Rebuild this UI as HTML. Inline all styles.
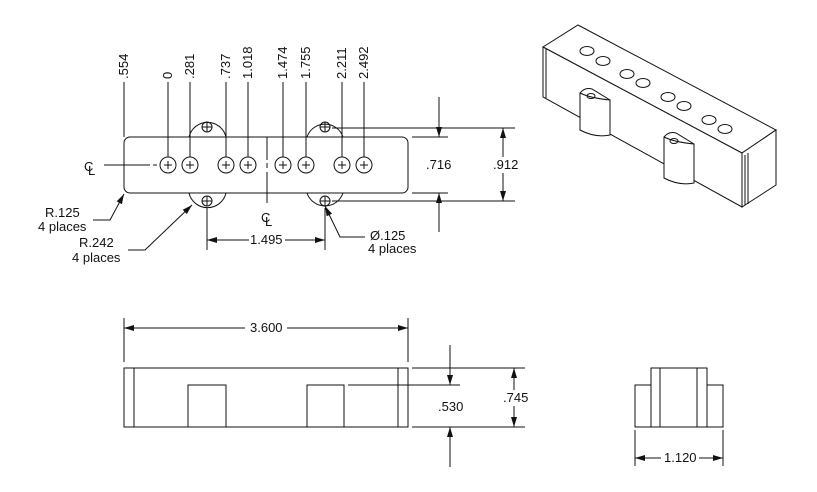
<!DOCTYPE html>
<html><head><style>
html,body{margin:0;padding:0;background:#fff;}
svg{display:block;}
text{font-family:"Liberation Sans",sans-serif;font-size:13px;fill:#111;}
</style></head><body>
<svg width="817" height="492" viewBox="0 0 817 492" xmlns="http://www.w3.org/2000/svg">
<defs>
<marker id="a" viewBox="0 0 10 6" refX="10" refY="3" markerWidth="10" markerHeight="6" orient="auto-start-reverse" markerUnits="userSpaceOnUse"><path d="M0,0 L10,3 L0,6 z" fill="#111"/></marker>
</defs>
<g stroke="#111" stroke-width="1" fill="none">
<path d="M189,137 A19,19 0 0 1 226,137" fill="#fff"/>
<path d="M307,137 A19,19 0 0 1 343,137" fill="#fff"/>
<path d="M189,193 A19,19 0 0 0 226,193" fill="#fff"/>
<path d="M307,193 A19,19 0 0 0 343,193" fill="#fff"/>
<rect x="124" y="137" width="284" height="56" rx="6" fill="#fff"/>
<g>
<circle cx="168" cy="165" r="8"/><circle cx="190" cy="165" r="8"/>
<circle cx="226" cy="165" r="8"/><circle cx="248" cy="165" r="8"/>
<circle cx="283" cy="165" r="8"/><circle cx="306" cy="165" r="8"/>
<circle cx="342" cy="165" r="8"/><circle cx="364" cy="165" r="8"/>
<path d="M164,165h8M168,161v8M186,165h8M190,161v8M222,165h8M226,161v8M244,165h8M248,161v8M279,165h8M283,161v8M302,165h8M306,161v8M338,165h8M342,161v8M360,165h8M364,161v8"/>
<circle cx="207" cy="127" r="5"/><path d="M202,127h10M207,122v10"/>
<circle cx="325" cy="127" r="5"/><path d="M320,127h10M325,122v10"/>
<circle cx="207" cy="201" r="5"/><path d="M202,201h10M207,196v10"/>
<circle cx="325" cy="201" r="5"/><path d="M320,201h10M325,196v10"/>
</g>
<path d="M124,137V82M168,157V82M190,157V82M226,157V82M248,157V82M283,157V82M306,157V82M342,157V82M364,157V82"/>
<path d="M104,165H150M153,165h4"/>
<path d="M267,137V160M267,163v5M267,172V203"/>
<path d="M412,137H448M412,193H448M332,128H515M332,201H515"/>
<path d="M439,97V137" marker-end="url(#a)"/>
<path d="M439,232V193" marker-end="url(#a)"/>
<path d="M503,128V201" marker-start="url(#a)" marker-end="url(#a)"/>
<path d="M207,208V250M325,208V250"/>
<path d="M207,240H325" marker-start="url(#a)" marker-end="url(#a)"/>
<path d="M365,237H340L325,206" marker-end="url(#a)"/>
<path d="M93,220H110L124,194" marker-end="url(#a)"/>
<path d="M128,250H145L192,205" marker-end="url(#a)"/>

<path d="M543,47 L578,25 L776,130 L742,153 Z" fill="#fff"/>
<path d="M543,47 V97 L742,207 V153 Z" fill="#fff"/>
<path d="M742,153 L776,130 V185 L742,207 Z" fill="#fff"/>
<path d="M546,49V98M745,155V205M748,153V204"/>
<g>
<ellipse cx="587" cy="51" rx="7" ry="4.5"/><ellipse cx="603" cy="61" rx="7" ry="4.5"/>
<ellipse cx="627" cy="74" rx="7" ry="4.5"/><ellipse cx="643" cy="83" rx="7" ry="4.5"/>
<ellipse cx="668" cy="97" rx="7" ry="4.5"/><ellipse cx="684" cy="106" rx="7" ry="4.5"/>
<ellipse cx="709" cy="120" rx="7" ry="4.5"/><ellipse cx="725" cy="129" rx="7" ry="4.5"/>
</g>
<path d="M580,93 Q585,87 592,89 L610,100 V135 Q595,138 580,130 Z" fill="#fff"/>
<path d="M580,93 Q590,98 610,100"/>
<ellipse cx="591" cy="96" rx="4" ry="2.5"/>
<path d="M664,137 Q669,131 676,133 L694,144 V183 Q679,186 664,178 Z" fill="#fff"/>
<path d="M664,137 Q674,142 694,144"/>
<ellipse cx="674" cy="141" rx="4" ry="2.5"/>

<rect x="124" y="368" width="284" height="59"/>
<path d="M134,368V427M398,368V427"/>
<rect x="188" y="385" width="38" height="42"/>
<rect x="307" y="385" width="37" height="42"/>
<path d="M348,385H460"/>
<path d="M124,318V362M408,318V362"/>
<path d="M124,328H408" marker-start="url(#a)" marker-end="url(#a)"/>
<path d="M412,368H525M412,427H525"/>
<path d="M450,345V385" marker-end="url(#a)"/>
<path d="M450,467V427" marker-end="url(#a)"/>
<path d="M514,368V427" marker-start="url(#a)" marker-end="url(#a)"/>

<rect x="635" y="385" width="88" height="42"/>
<rect x="651" y="368" width="56" height="59" fill="#fff"/>
<path d="M660,368V427M697,368V427"/>
<path d="M635,430V466M723,430V466"/>
<path d="M635,458H723" marker-start="url(#a)" marker-end="url(#a)"/>
</g>
<g fill="#fff">
<rect x="249" y="232" width="36" height="15"/>
<rect x="494" y="157" width="22" height="16"/>
<rect x="245" y="320" width="42" height="15"/>
<rect x="504" y="390" width="22" height="16"/>
<rect x="661" y="450" width="38" height="15"/>
</g>
<g>
<text transform="translate(128,79) rotate(-90)">.554</text>
<text transform="translate(172,79) rotate(-90)">0</text>
<text transform="translate(194,79) rotate(-90)">.281</text>
<text transform="translate(230,79) rotate(-90)">.737</text>
<text transform="translate(252,79) rotate(-90)">1.018</text>
<text transform="translate(287,79) rotate(-90)">1.474</text>
<text transform="translate(310,79) rotate(-90)">1.755</text>
<text transform="translate(346,79) rotate(-90)">2.211</text>
<text transform="translate(368,79) rotate(-90)">2.492</text>
</g>
<text x="84" y="171" font-size="15">C</text><text x="88" y="175" font-size="13">L</text>
<text x="261" y="222" font-size="15">C</text><text x="265" y="226" font-size="13">L</text>
<text x="426" y="169">.716</text>
<text x="493" y="169">.912</text>
<text x="250" y="244">1.495</text>
<text x="370" y="240">Ø.125</text>
<text x="368" y="253">4 places</text>
<text x="45" y="217">R.125</text>
<text x="38" y="231">4 places</text>
<text x="79" y="247">R.242</text>
<text x="72" y="262">4 places</text>
<text x="250" y="332">3.600</text>
<text x="438" y="411">.530</text>
<text x="503" y="402">.745</text>
<text x="664" y="462">1.120</text>
</svg>
</body></html>
